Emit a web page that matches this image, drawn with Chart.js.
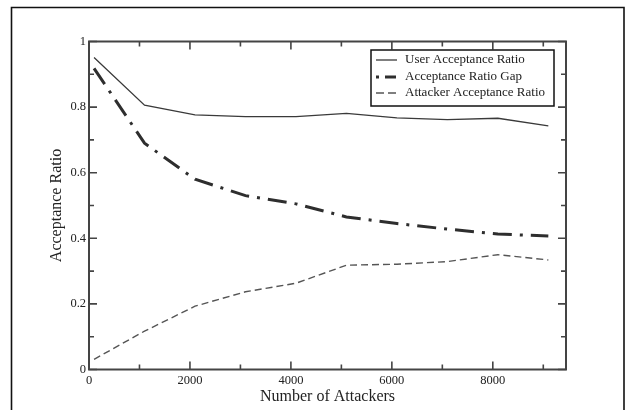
<!DOCTYPE html>
<html>
<head>
<meta charset="utf-8">
<script src="https://cdn.jsdelivr.net/npm/chart.js@4/dist/chart.umd.min.js"></script>
<style>
  html, body { margin: 0; padding: 0; background: #fff; }
  #wrap { position: relative; width: 633px; height: 410px; }
</style>
</head>
<body>
<div id="wrap"><canvas id="c" width="633" height="410"></canvas></div>
<script>
// ---- data ----
const attackers = [100, 1100, 2100, 3100, 4100, 5100, 6100, 7100, 8100, 9100];
const userAcceptance = [0.951, 0.806, 0.776, 0.771, 0.771, 0.781, 0.767, 0.762, 0.766, 0.743];
const ratioGap = [0.918, 0.690, 0.580, 0.530, 0.505, 0.465, 0.445, 0.428, 0.413, 0.407];
const attackerAcceptance = [0.031, 0.117, 0.193, 0.237, 0.263, 0.318, 0.321, 0.329, 0.350, 0.334];
const seriesNames = ['User Acceptance Ratio', 'Acceptance Ratio Gap', 'Attacker Acceptance Ratio'];

const xTicks = [0, 2000, 4000, 6000, 8000];
const xTickLabels = ['0', '2000', '4000', '6000', '8000'];
const xMinorTicks = [1000, 3000, 5000, 7000, 9000];
const yTicks = [0, 0.2, 0.4, 0.6, 0.8, 1];
const yTickLabels = ['0', '0.2', '0.4', '0.6', '0.8', '1'];
const yMinorTicks = [0.1, 0.3, 0.5, 0.7, 0.9];

const FONT = '"Liberation Serif", "Times New Roman", serif';

function pts(ys) { return attackers.map((x, i) => ({ x: x, y: ys[i] })); }

const framePlugin = {
  id: 'frame',
  beforeDraw(chart) {
    const ctx = chart.ctx;
    ctx.save();
    ctx.fillStyle = '#fff';
    ctx.fillRect(0, 0, chart.width, chart.height);
    ctx.strokeStyle = '#111';
    ctx.lineWidth = 1.6;
    ctx.beginPath();
    ctx.moveTo(11.5, 410);
    ctx.lineTo(11.5, 7.5);
    ctx.lineTo(624, 7.5);
    ctx.lineTo(624, 410);
    ctx.stroke();
    ctx.restore();
  },
  afterDatasetsDraw(chart) {
    const ctx = chart.ctx;
    const a = chart.chartArea;
    const xs = chart.scales.x, ys = chart.scales.y;
    ctx.save();
    ctx.strokeStyle = '#444';
    ctx.lineWidth = 1.6;
    // inward ticks
    const major = 8, minor = 5;
    ctx.beginPath();
    xTicks.forEach(v => {
      const p = xs.getPixelForValue(v);
      ctx.moveTo(p, a.bottom); ctx.lineTo(p, a.bottom - major);
      ctx.moveTo(p, a.top); ctx.lineTo(p, a.top + major);
    });
    xMinorTicks.forEach(v => {
      const p = xs.getPixelForValue(v);
      ctx.moveTo(p, a.bottom); ctx.lineTo(p, a.bottom - minor);
      ctx.moveTo(p, a.top); ctx.lineTo(p, a.top + minor);
    });
    yTicks.forEach(v => {
      const p = ys.getPixelForValue(v);
      ctx.moveTo(a.left, p); ctx.lineTo(a.left + major, p);
      ctx.moveTo(a.right, p); ctx.lineTo(a.right - major, p);
    });
    yMinorTicks.forEach(v => {
      const p = ys.getPixelForValue(v);
      ctx.moveTo(a.left, p); ctx.lineTo(a.left + minor, p);
      ctx.moveTo(a.right, p); ctx.lineTo(a.right - minor, p);
    });
    ctx.stroke();
    // plot box
    ctx.lineWidth = 2;
    ctx.strokeRect(a.left, a.top, a.right - a.left, a.bottom - a.top);
    ctx.restore();
  },
  afterDraw(chart) {
    // legend box
    const ctx = chart.ctx;
    const bx = 371, by = 50, bw = 183, bh = 56;
    ctx.save();
    ctx.fillStyle = '#fff';
    ctx.fillRect(bx, by, bw, bh);
    ctx.strokeStyle = '#111';
    ctx.lineWidth = 1.5;
    ctx.strokeRect(bx, by, bw, bh);
    const rows = [60, 77, 93];
    chart.data.datasets.forEach((ds, i) => {
      const y = rows[i];
      ctx.strokeStyle = ds.borderColor;
      ctx.lineWidth = ds.borderWidth;
      ctx.setLineDash(ds.legendDash || ds.borderDash || []);
      ctx.lineDashOffset = ds.legendDashOffset || 0;
      ctx.beginPath();
      ctx.moveTo(376, y);
      ctx.lineTo(397, y);
      ctx.stroke();
      ctx.setLineDash([]);
      ctx.fillStyle = '#222';
      ctx.font = '13px ' + FONT;
      ctx.textBaseline = 'middle';
      ctx.textAlign = 'left';
      ctx.fillText(ds.label, 405, y);
    });
    ctx.restore();
  }
};

new Chart(document.getElementById('c'), {
  type: 'line',
  data: {
    datasets: [
      { label: seriesNames[0], data: pts(userAcceptance), borderColor: '#3a3a3a', borderWidth: 1.3, borderDash: [] },
      { label: seriesNames[1], data: pts(ratioGap), borderColor: '#2e2e2e', borderWidth: 3, borderDash: [19, 8, 3, 8], legendDash: [3, 6, 11, 30], legendDashOffset: 0 },
      { label: seriesNames[2], data: pts(attackerAcceptance), borderColor: '#555', borderWidth: 1.4, borderDash: [7, 4], legendDash: [8, 4] }
    ]
  },
  options: {
    responsive: false,
    animation: false,
    devicePixelRatio: 1,
    parsing: true,
    elements: { point: { radius: 0 }, line: { tension: 0 } },
    layout: { padding: { left: 0, top: 41.5, right: 67, bottom: 0 } },
    plugins: { legend: { display: false }, tooltip: { enabled: false }, title: { display: false } },
    scales: {
      x: {
        type: 'linear',
        min: 0,
        max: 9450,
        grid: { display: false, drawTicks: false },
        border: { display: false },
        afterBuildTicks: s => { s.ticks = xTicks.map(v => ({ value: v })); },
        afterFit: s => { s.height = 40.5; },
        ticks: {
          padding: 4,
          color: '#222',
          font: { family: FONT, size: 12.5 },
          maxRotation: 0,
          autoSkip: false,
          callback: v => xTickLabels[xTicks.indexOf(v)]
        },
        title: {
          display: true,
          text: 'Number of Attackers',
          color: '#222',
          font: { family: FONT, size: 16 },
          padding: { top: 0, bottom: 4 }
        }
      },
      y: {
        type: 'linear',
        min: 0,
        max: 1,
        grid: { display: false, drawTicks: false },
        border: { display: false },
        afterBuildTicks: s => { s.ticks = yTicks.map(v => ({ value: v })); },
        afterFit: s => { s.width = 89; },
        ticks: {
          padding: 3,
          color: '#222',
          font: { family: FONT, size: 12.5 },
          autoSkip: false,
          callback: v => yTickLabels[yTicks.indexOf(v)]
        },
        title: {
          display: true,
          text: 'Acceptance Ratio',
          color: '#222',
          font: { family: FONT, size: 16 },
          padding: { top: 47, bottom: 0 }
        }
      }
    }
  },
  plugins: [framePlugin]
});
</script>
</body>
</html>
